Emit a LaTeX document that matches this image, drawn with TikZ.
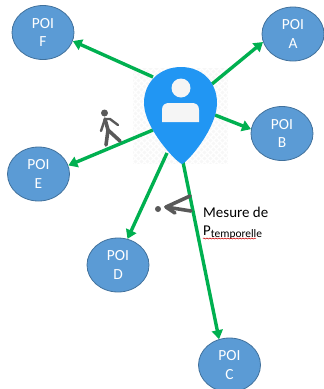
\documentclass[tikz,border=0pt]{standalone}
\usepackage{fontspec}
\setmainfont{Carlito}
\usetikzlibrary{arrows.meta,shapes.geometric,decorations.pathmorphing}
\definecolor{poifill}{HTML}{5B9BD5}
\definecolor{poiedge}{HTML}{41719C}
\definecolor{linkgreen}{HTML}{00B050}
\definecolor{pinblue}{HTML}{2196F3}
\definecolor{figgray}{HTML}{595959}
\tikzset{
  poi/.style={ellipse,draw=poiedge,line width=0.8bp,fill=poifill,text=white,minimum width=62bp,minimum height=54bp,inner sep=0pt,align=center,font=\fontsize{15.5}{19}\selectfont},
  link/.style={draw=linkgreen,line width=3.4bp,-{Triangle[length=9bp,width=11bp]}},
  figline/.style={draw=figgray,line width=3.6bp,line cap=round,line join=round},
  label/.style={inner sep=0pt,anchor=base west,font=\fontsize{15}{18}\selectfont}
}
\begin{document}
\begin{tikzpicture}[x=1bp,y=-1bp]
\useasboundingbox (0,0) rectangle (324,389);
\clip (0,0) rectangle (324,389);
% checker background of the pin
\begin{scope}
\clip (133,68) rectangle (228,164);
\fill[black!3] (133,68) rectangle (228,164);
\foreach \k in {-100,-94,...,200}{
  \draw[white,line width=1.4bp] (133+\k,68) -- (133+\k+100,168);
  \draw[white,line width=1.4bp] (228-\k,68) -- (228-\k-100,168);
}
\end{scope}
\node[poi] (poiF) at (43,32.5) {POI\\F};
\node[poi] (poiA) at (293,34) {POI\\A};
\node[poi] (poiB) at (282,133.5) {POI\\B};
\node[poi] (poiE) at (38.5,174) {POI\\E};
\node[poi] (poiD) at (118,265) {POI\\D};
\node[poi] (poiC) at (229.5,365) {POI\\C};
\coordinate (startF) at (153,77);
\coordinate (startA) at (212,84);
\coordinate (startB) at (215,115);
\coordinate (startE) at (153,130);
\coordinate (startD) at (167,153);
\coordinate (startC) at (183,162);
\draw[link] (startF) -- (poiF.-16);
\draw[link] (startA) -- (poiA.195);
\draw[link] (startB) -- (poiB.172);
\draw[link] (startE) -- (poiE.16);
\draw[link] (startD) -- (poiD.70);
\draw[link] (startC) -- (poiC.112);
% pin
\fill[pinblue] (182,164) .. controls (176,162) and (144,128) .. (144,103)
  .. controls (144,82) and (160,67) .. (181,67)
  .. controls (202,67) and (217,82) .. (217,103)
  .. controls (217,128) and (188,162) .. (182,164) -- cycle;
\fill[black!4] (181,88) circle (9.5);
\fill[black!4] (162,122) -- (162,110) .. controls (162,105) and (165,103) .. (169,103)
  -- (192,103) .. controls (196,103) and (199,105) .. (199,110) -- (199,122) -- cycle;
% walking figure
\fill[figgray] (104.5,113) circle (3.5);
\draw[figline] (105,119) -- (108,130) -- (106,145);
\draw[figline] (108,130) -- (120,141);
\draw[figline,line width=2.4bp] (101,131) -- (105,119) -- (110,119) -- (118,125);
% pointing figure
\fill[figgray] (158,209) circle (3);
\draw[figline] (190,196) -- (166,207) -- (175,213);
\draw[figline] (166,207) -- (191,211);
% text
\node[label] (mesure) at (203,217) {Mesure de};
\node[label] (ptemp) at (203,235) {P\raisebox{-2.5bp}{\fontsize{11.5}{13}\selectfont temporelle}};
\draw[red!80!black,line width=0.5bp,decorate,decoration={snake,amplitude=0.5bp,segment length=3bp}] (ptemp.base west)++(0,3.5) -- ++(53,0);
\end{tikzpicture}
\end{document}
